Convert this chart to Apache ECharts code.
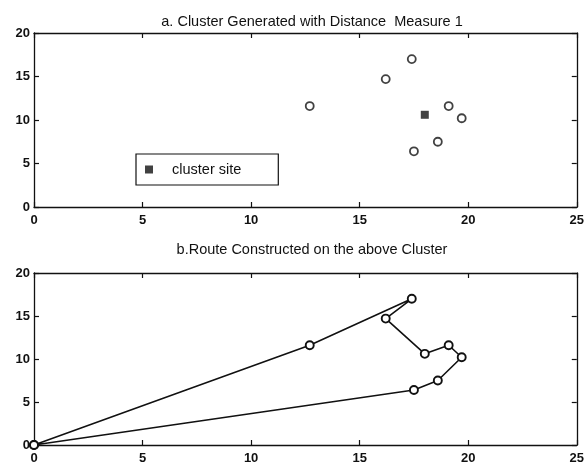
<!DOCTYPE html>
<html>
<head>
<meta charset="utf-8">
<script src="https://cdn.jsdelivr.net/npm/echarts@6/dist/echarts.min.js"></script>
<style>
  html, body { margin: 0; padding: 0; background: #fff; }
  #chart { width: 587px; height: 465px; }
</style>
</head>
<body>
<div id="chart"></div>
<script>
// Customer locations in the cluster (x, y)
const customerX = [12.7, 17.4, 16.2, 19.1, 19.7, 18.6, 17.5];
const customerY = [11.6, 17.0, 14.7, 11.6, 10.2, 7.5, 6.4];
// Cluster site
const siteX = [18.0];
const siteY = [10.6];
// Route order: depot -> stops -> depot
const routeX = [0, 12.7, 17.4, 16.2, 18.0, 19.1, 19.7, 18.6, 17.5, 0];
const routeY = [0, 11.6, 17.0, 14.7, 10.6, 11.6, 10.2, 7.5, 6.4, 0];

const xTicks = [0, 5, 10, 15, 20, 25];
const yTicks = [0, 5, 10, 15, 20];

const zip = (xs, ys) => xs.map((x, i) => [x, ys[i]]);

const FONT = 'Liberation Sans, Arial, sans-serif';
const INK = '#111';

function axisPair(gridIndex, type) {
  const isX = type === 'x';
  const base = {
    gridIndex,
    type: 'value',
    min: 0,
    max: isX ? xTicks[xTicks.length - 1] : yTicks[yTicks.length - 1],
    interval: 5,
    splitLine: { show: false },
    axisLine: { show: true, onZero: false, lineStyle: { color: INK, width: 1.3 } },
    axisTick: { show: true, inside: true, length: 5, lineStyle: { color: INK, width: 1.2 } }
  };
  const main = Object.assign({}, base, {
    position: isX ? 'bottom' : 'left',
    axisLabel: {
      show: true, color: INK, fontFamily: FONT, fontSize: 13, fontWeight: 'bold',
      margin: isX ? 7 : 4
    }
  });
  const opp = Object.assign({}, base, {
    position: isX ? 'top' : 'right',
    axisLabel: { show: false }
  });
  return [main, opp];
}

const chart = echarts.init(document.getElementById('chart'), null, { renderer: 'canvas' });

const titleStyle = { fontFamily: FONT, fontSize: 14.5, fontWeight: 'normal', color: INK };

chart.setOption({
  animation: false,
  backgroundColor: '#fff',
  title: [
    {
      text: 'a. Cluster Generated with Distance  Measure 1',
      left: 307, top: 9, textAlign: 'center',
      textStyle: titleStyle
    },
    {
      text: 'b.Route Constructed on the above Cluster',
      left: 307, top: 237, textAlign: 'center',
      textStyle: titleStyle
    }
  ],
  legend: {
    data: [{ name: 'cluster site', icon: 'rect' }],
    left: 136, top: 154,
    orient: 'horizontal',
    itemWidth: 8, itemHeight: 8, itemGap: 10,
    padding: [8, 37, 8, 9],
    borderColor: INK, borderWidth: 1.2,
    backgroundColor: '#fff',
    textStyle: { fontFamily: FONT, fontSize: 14.5, color: INK, padding: [0, 0, 0, 14] },
    selectedMode: false
  },
  grid: [
    { left: 34, top: 33, width: 546, height: 174 },
    { left: 34, top: 273, width: 546, height: 172 }
  ],
  xAxis: [...axisPair(0, 'x'), ...axisPair(1, 'x')],
  yAxis: [...axisPair(0, 'y'), ...axisPair(1, 'y')],
  series: [
    {
      name: 'customers', type: 'scatter', xAxisIndex: 0, yAxisIndex: 0,
      symbol: 'circle', symbolSize: 8,
      itemStyle: { color: '#fff', borderColor: INK, borderWidth: 1.8 },
      data: zip(customerX, customerY)
    },
    {
      name: 'cluster site', type: 'scatter', xAxisIndex: 0, yAxisIndex: 0,
      symbol: 'rect', symbolSize: 8,
      itemStyle: { color: INK },
      data: zip(siteX, siteY)
    },
    {
      name: 'route', type: 'line', xAxisIndex: 2, yAxisIndex: 2,
      symbol: 'circle', symbolSize: 8, showSymbol: true,
      lineStyle: { color: INK, width: 1.6 },
      itemStyle: { color: '#fff', borderColor: INK, borderWidth: 1.9 },
      data: zip(routeX, routeY)
    }
  ]
});
</script>
</body>
</html>
